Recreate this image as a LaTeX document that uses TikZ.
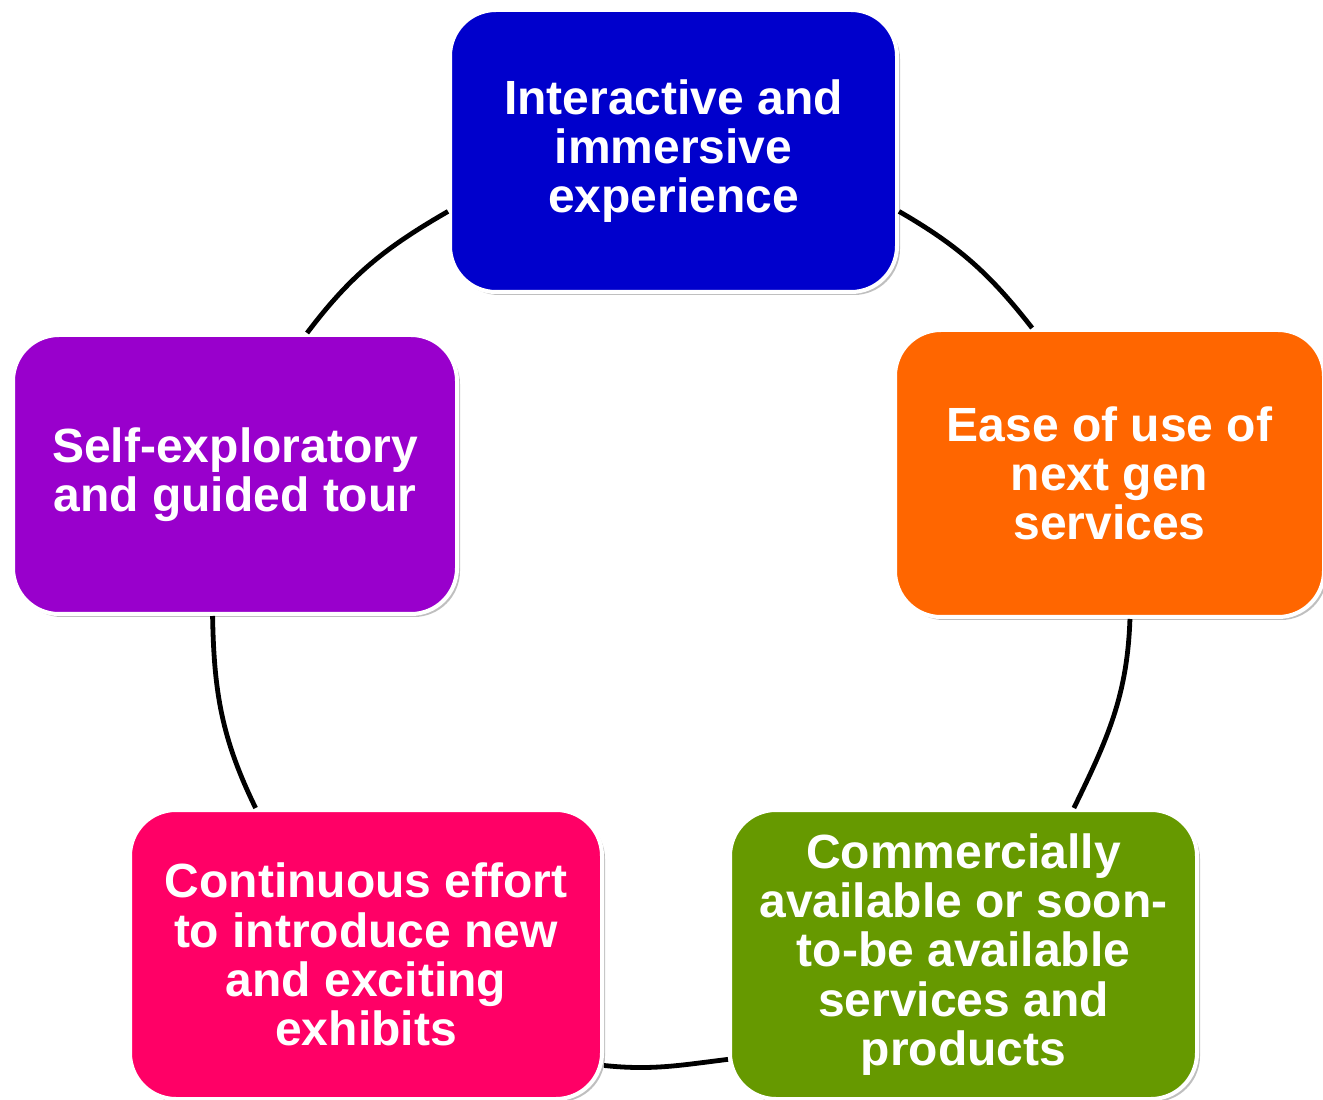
\documentclass[tikz,border=0pt]{standalone}
\usepackage{fontspec}
\setmainfont{Liberation Sans}
\usetikzlibrary{shadows}
\definecolor{stageblue}{HTML}{0000CC}
\definecolor{stageorange}{HTML}{FF6600}
\definecolor{stagegreen}{HTML}{669900}
\definecolor{stagepink}{HTML}{FF0066}
\definecolor{stagepurple}{HTML}{9900CC}
\begin{document}
\begin{tikzpicture}[x=0.5pt,y=0.5pt]
		\useasboundingbox (0,0) rectangle (1323,1099);
		\tikzstyle{every node}=[draw=white, line width=2pt, rounded corners=23pt,
			text=white, align=center, inner sep=0pt,
			font=\fontsize{24}{24.6}\selectfont\bfseries,
			drop shadow={shadow xshift=1.5pt, shadow yshift=-1.5pt, fill=black, opacity=0.25}];
		\path (673.5,948)  node[fill=stageblue, minimum width=223.5pt, minimum height=141pt] (top) {Interactive and\\immersive\\experience};
		\path (1109.5,625.5) node[fill=stageorange, minimum width=214.5pt, minimum height=143.5pt] (ease) {Ease of use of\\next gen\\services};
		\path (963.5,144.5) node[fill=stagegreen, minimum width=233.5pt, minimum height=144.5pt] (comm) {Commercially\\available or soon-\\to-be available\\services and\\products};
		\path (366,144.5)   node[fill=stagepink, minimum width=236pt, minimum height=144.5pt] (cont) {Continuous effort\\to introduce new\\and exciting\\exhibits};
		\path (235,624.5)   node[fill=stagepurple, minimum width=222pt, minimum height=139.5pt] (self) {Self-exploratory\\and guided tour};
		\draw[black, line width=2.4pt]
		(top.-15)  to[out=-30,in=128] (ease.118)
		(ease.-82) to[out=-92,in=64]  (comm.53)
		(comm.-156) to[out=-173,in=-6] (cont.-25)
		(cont.127) to[out=116,in=-89] (self.-99)
		(self.63)  to[out=53,in=210]  (top.195);
\end{tikzpicture}
\end{document}
